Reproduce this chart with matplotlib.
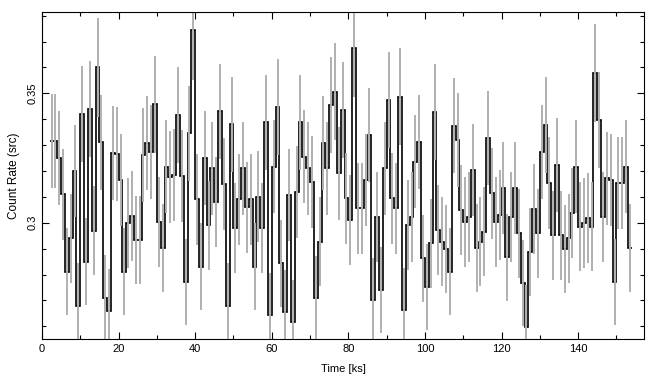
import numpy as np
import matplotlib
matplotlib.use("Agg")
import matplotlib.pyplot as plt
from matplotlib.ticker import MultipleLocator, FuncFormatter

# light curve, 1 ks bins starting at 2 ks
bin_start = 2.0
bin_width = 1.0

rate = [
    0.3315, 0.3315, 0.3250, 0.3110, 0.2810, 0.2940, 0.3200, 0.2680, 0.3420, 0.2850,
    0.3440, 0.2970, 0.3600, 0.3310, 0.2710, 0.2660, 0.3270, 0.3265, 0.3165, 0.2811,
    0.2998, 0.3027, 0.2933, 0.2933, 0.3262, 0.3307, 0.3274, 0.3457, 0.3004, 0.2901,
    0.3216, 0.3178, 0.3185, 0.3416, 0.3180, 0.2772, 0.3345, 0.3745, 0.3090, 0.2830,
    0.3250, 0.2990, 0.3210, 0.3080, 0.3430, 0.3150, 0.2680, 0.3380, 0.2980, 0.3090,
    0.3210, 0.3060, 0.3090, 0.2830, 0.3100, 0.2980, 0.3388, 0.2643, 0.3216, 0.3448,
    0.2843, 0.2656, 0.3107, 0.2618, 0.3120, 0.3388, 0.3255, 0.3210, 0.3158, 0.2708,
    0.2927, 0.3307, 0.3210, 0.3455, 0.3506, 0.3191, 0.3435, 0.3094, 0.3010, 0.3676,
    0.3056, 0.3056, 0.3165, 0.3339, 0.2701, 0.3023, 0.2740, 0.3210, 0.3474, 0.3094,
    0.3056, 0.3487, 0.2663, 0.2991, 0.3023, 0.3236, 0.3313, 0.2862, 0.2753, 0.2920,
    0.3427, 0.2972, 0.2927, 0.2900, 0.2811, 0.3375, 0.3320, 0.3049, 0.3004, 0.3023,
    0.3204, 0.2901, 0.2927, 0.2965, 0.3326, 0.3114, 0.3004, 0.3030, 0.3135, 0.2866,
    0.3023, 0.3135, 0.2959, 0.2766, 0.2598, 0.2888, 0.3053, 0.2959, 0.3274, 0.3378,
    0.3152, 0.2952, 0.3223, 0.2952, 0.2900, 0.2940, 0.3036, 0.3216, 0.2985, 0.2998,
    0.3017, 0.2985, 0.3577, 0.3397, 0.3023, 0.3171, 0.3165, 0.2772, 0.3152, 0.3152,
    0.3216, 0.2901,
]

rate_err = [
    0.0182, 0.0182, 0.0181, 0.0176, 0.0168, 0.0171, 0.0179, 0.0164, 0.0185, 0.0169,
    0.0185, 0.0172, 0.0190, 0.0182, 0.0165, 0.0163, 0.0181, 0.0181, 0.0178, 0.0168,
    0.0173, 0.0174, 0.0171, 0.0171, 0.0181, 0.0182, 0.0181, 0.0186, 0.0173, 0.0170,
    0.0179, 0.0178, 0.0178, 0.0185, 0.0178, 0.0166, 0.0183, 0.0194, 0.0176, 0.0168,
    0.0180, 0.0173, 0.0179, 0.0175, 0.0185, 0.0177, 0.0164, 0.0184, 0.0173, 0.0176,
    0.0179, 0.0175, 0.0176, 0.0168, 0.0176, 0.0173, 0.0184, 0.0163, 0.0179, 0.0186,
    0.0169, 0.0163, 0.0176, 0.0162, 0.0177, 0.0184, 0.0180, 0.0179, 0.0178, 0.0165,
    0.0171, 0.0182, 0.0179, 0.0186, 0.0187, 0.0179, 0.0185, 0.0176, 0.0173, 0.0192,
    0.0175, 0.0175, 0.0178, 0.0183, 0.0164, 0.0174, 0.0166, 0.0179, 0.0186, 0.0176,
    0.0175, 0.0187, 0.0163, 0.0173, 0.0174, 0.0180, 0.0182, 0.0169, 0.0166, 0.0171,
    0.0185, 0.0172, 0.0171, 0.0170, 0.0168, 0.0184, 0.0182, 0.0175, 0.0173, 0.0174,
    0.0179, 0.0170, 0.0171, 0.0172, 0.0182, 0.0176, 0.0173, 0.0174, 0.0177, 0.0169,
    0.0174, 0.0177, 0.0172, 0.0166, 0.0161, 0.0170, 0.0175, 0.0172, 0.0181, 0.0184,
    0.0178, 0.0172, 0.0180, 0.0172, 0.0170, 0.0171, 0.0174, 0.0179, 0.0173, 0.0173,
    0.0174, 0.0173, 0.0189, 0.0184, 0.0174, 0.0178, 0.0178, 0.0166, 0.0178, 0.0178,
    0.0179, 0.0170,
]

edges = bin_start + bin_width * np.arange(len(rate) + 1)
centers = edges[:-1] + bin_width / 2

plt.rcParams['font.family'] = ['Liberation Sans', 'DejaVu Sans']

fig = plt.figure(figsize=(6.55, 3.85), dpi=100)
ax = fig.add_axes([42 / 655, 1 - 339 / 385, 602 / 655, 327 / 385])

ax.errorbar(centers, rate, yerr=rate_err, fmt='none', ecolor='#b0b0b0',
            elinewidth=1.4, capsize=0)
ax.stairs(rate, edges, baseline=None, color='black', linewidth=1.2)

ax.set_xlim(0, 157.2)
ax.set_ylim(0.2551, 0.3814)

ax.xaxis.set_major_locator(MultipleLocator(20))
ax.xaxis.set_minor_locator(MultipleLocator(10))
ax.yaxis.set_major_locator(MultipleLocator(0.05))
ax.yaxis.set_minor_locator(MultipleLocator(0.01))
ax.yaxis.set_major_formatter(FuncFormatter(lambda v, p: '%g' % round(v, 3)))

ax.tick_params(which='both', direction='in', top=True, right=True,
               labelsize=8, width=0.8)
ax.tick_params(which='major', length=5)
ax.tick_params(which='minor', length=3)
ax.tick_params(axis='y', labelrotation=90, pad=3)
plt.setp(ax.get_yticklabels(), va='center')

for s in ax.spines.values():
    s.set_linewidth(0.8)

ax.set_xlabel('Time [ks]', fontsize=8, labelpad=7)
ax.set_ylabel('Count Rate (src)', fontsize=8.5, labelpad=6)

fig.savefig('out.png', dpi=100)
